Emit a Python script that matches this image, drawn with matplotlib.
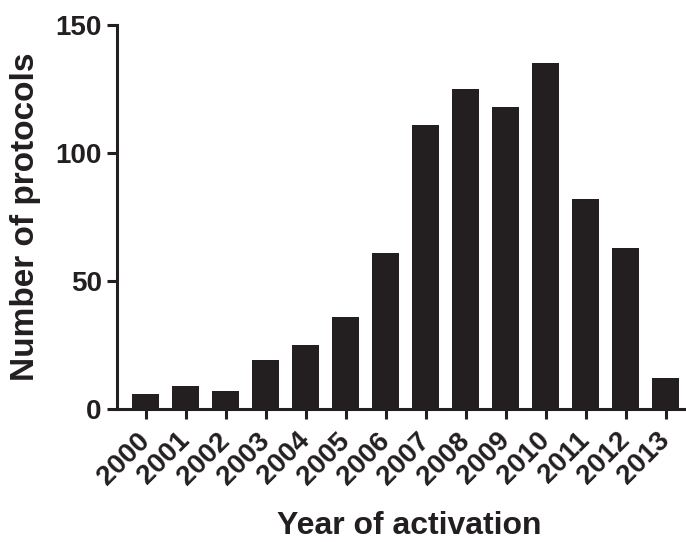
import matplotlib
matplotlib.use("Agg")
import matplotlib.pyplot as plt
import numpy as np

years = ["2000", "2001", "2002", "2003", "2004", "2005", "2006",
         "2007", "2008", "2009", "2010", "2011", "2012", "2013"]
counts = [6, 9, 7, 19, 25, 36, 61, 111, 125, 118, 135, 82, 63, 12]
yticks = [0, 50, 100, 150]

ink = "#231f20"
plt.rcParams["font.family"] = ["Liberation Sans", "DejaVu Sans"]
plt.rcParams["font.weight"] = "bold"

fig = plt.figure(figsize=(6.86, 5.42), dpi=100)
ax = fig.add_axes([117/686, 133/542, (686-117)/686, (409-25)/542])

x = np.arange(len(years))
ax.bar(x, counts, width=0.67, color=ink, edgecolor="none")

ax.set_xlim(-0.7125, 13.51)
ax.set_ylim(0, 150)
ax.set_yticks(yticks)
ax.set_yticklabels([str(v) for v in yticks], fontsize=20, fontweight="bold", color=ink)
ax.set_xticks(x)
ax.set_xticklabels(years, rotation=45, ha="right", va="center",
                   rotation_mode="anchor", fontsize=20, fontweight="bold", color=ink)

for s in ["top", "right"]:
    ax.spines[s].set_visible(False)
for s in ["left", "bottom"]:
    ax.spines[s].set_linewidth(2.2)
    ax.spines[s].set_color(ink)

ax.tick_params(axis="both", direction="out", length=7, width=2.2, color=ink)
ax.tick_params(axis="y", pad=4)
ax.tick_params(axis="x", pad=13)

ax.set_xlabel("Year of activation", fontsize=23, fontweight="bold", color=ink)
ax.xaxis.set_label_coords((409 - 117) / 569, (409 - 511) / 384)
ax.set_ylabel("Number of protocols", fontsize=24, fontweight="bold", color=ink, labelpad=10)

fig.savefig("out.png", dpi=100)
